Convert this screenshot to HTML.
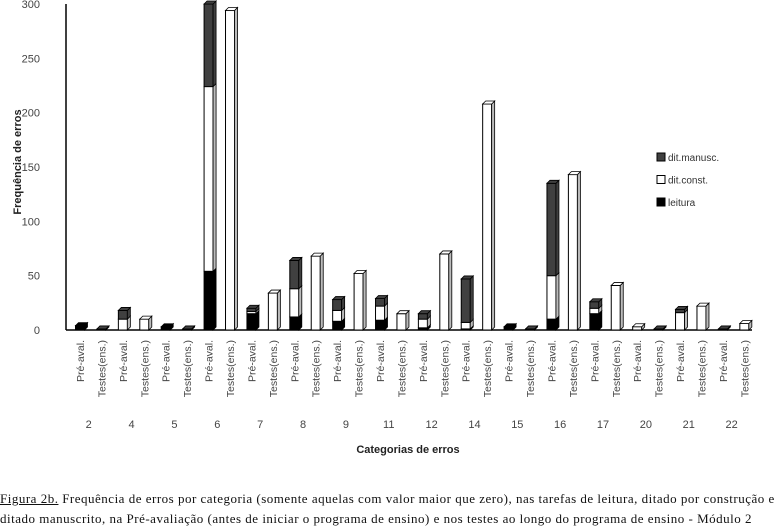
<!DOCTYPE html>
<html><head><meta charset="utf-8">
<style>
body{margin:0;background:#fff;width:776px;height:526px;overflow:hidden;position:relative;font-family:"Liberation Sans",sans-serif}
#cap{position:absolute;left:0;top:489px;width:790px;font-family:"Liberation Serif",serif;font-size:13px;letter-spacing:0.5px;line-height:20px;color:#111;white-space:nowrap}
#cap u{text-decoration:underline}
</style></head><body>
<svg id="chart" width="776" height="486" style="position:absolute;left:0;top:0" xmlns="http://www.w3.org/2000/svg"></svg>
<div id="cap"><u>Figura 2b.</u> Frequência de erros por categoria (somente aquelas com valor maior que zero), nas tarefas de leitura, ditado por construção e<br>ditado manuscrito, na Pré-avaliação (antes de iniciar o programa de ensino) e nos testes ao longo do programa de ensino - Módulo 2</div>
<script>
const categories=["2","4","5","6","7","8","9","11","12","14","15","16","17","20","21","22"];
const phases=["Pré-aval.","Testes(ens.)"];
// per bar (category x phase, in order)
const leitura=[4,0, 0,0, 3,0, 54,0, 15,0, 12,0, 8,0, 9,0, 2,0, 1,0, 3,0, 10,0, 15,0, 0,0, 0,0, 0,0];
const ditConst=[0,0, 10,10, 0,0, 170,294, 2,34, 26,68, 10,52, 13,15, 8,70, 6,208, 0,0, 40,143, 5,41, 3,0, 16,22, 0,6];
const ditManusc=[0,1, 8,0, 0,1, 76,0, 3,0, 26,0, 10,0, 7,0, 5,0, 40,0, 0,1, 85,0, 6,0, 0,1, 3,0, 1,0];
const yTicks=[0,50,100,150,200,250,300];
const seriesNames=["dit.manusc.","dit.const.","leitura"];

const svg=document.getElementById('chart');
const NS="http://www.w3.org/2000/svg";
function mk(t,a,txt){const e=document.createElementNS(NS,t);for(const k in a)e.setAttribute(k,a[k]);if(txt!==undefined)e.textContent=txt;svg.appendChild(e);return e;}
const y0=330,yTop=4,yMax=300;
const y=v=>y0-(v/yMax)*(y0-yTop);
const x0=80,step=21.43;
const xb=i=>x0+i*step;

let e=mk('line',{x1:66,y1:4,x2:66,y2:330,stroke:'#000','stroke-width':1.5});

e=mk('line',{x1:66,y1:330,x2:752,y2:330,stroke:'#000','stroke-width':1.5});

yTicks.forEach(t=>{const l=mk('text',{x:40,y:y(t)+4,'text-anchor':'end','font-size':11,fill:'#444'},t);
});
e=mk('text',{transform:'translate(21,162) rotate(-90)','text-anchor':'middle','font-size':11,'font-weight':'bold',fill:'#222'},'Frequência de erros');

e=mk('text',{x:408,y:453,'text-anchor':'middle','font-size':11,'font-weight':'bold',fill:'#222'},'Categorias de erros');


const colors=['#000','#fff','#404040'];
const W=9,D=3;
for(let i=0;i<leitura.length;i++){
  const cx=xb(i),left=cx-W/2;
  const vals=[leitura[i],ditConst[i],ditManusc[i]];
  let acc=0;
  const total=vals[0]+vals[1]+vals[2];
  vals.forEach((v,s)=>{
    if(v<=0)return;
    const top=y(acc+v),bot=y(acc);
    const r=mk('rect',{x:left,y:top,width:W,height:Math.max(bot-top,1),fill:colors[s],stroke:'#000','stroke-width':1});
    
    
    const sd=mk('polygon',{points:`${left+W},${top} ${left+W+D},${top-D} ${left+W+D},${bot-D} ${left+W},${bot}`,fill:s===1?'#bbb':colors[s],stroke:'#000','stroke-width':0.8});
    
    
    acc+=v;
  });
  if(total>0){
    const s=vals[2]>0?2:(vals[1]>0?1:0);
    const t=y(total);
    const tp=mk('polygon',{points:`${left},${t} ${left+D},${t-D} ${left+W+D},${t-D} ${left+W},${t}`,fill:s===1?'#fff':colors[s],stroke:'#000','stroke-width':0.8});
    
    
  }
  const lab=mk('text',{transform:`translate(${cx+4},340) rotate(-90)`,'text-anchor':'end','font-size':10.5,fill:'#444'},phases[i%2]);
  
  
}
categories.forEach((c,k)=>{
  const t=mk('text',{x:(xb(2*k)+xb(2*k+1))/2-2,y:428,'text-anchor':'middle','font-size':11,fill:'#444'},c);
  
  
});
seriesNames.forEach((n,k)=>{
  const yy=157+k*22.5;
  const sw=mk('rect',{x:657,y:yy-4,width:8,height:8,fill:['#404040','#fff','#000'][k],stroke:'#000','stroke-width':1});
  
  
  const t=mk('text',{x:668,y:yy+4,'font-size':10,fill:'#333'},n);
  
  
});
</script>
</body></html>
